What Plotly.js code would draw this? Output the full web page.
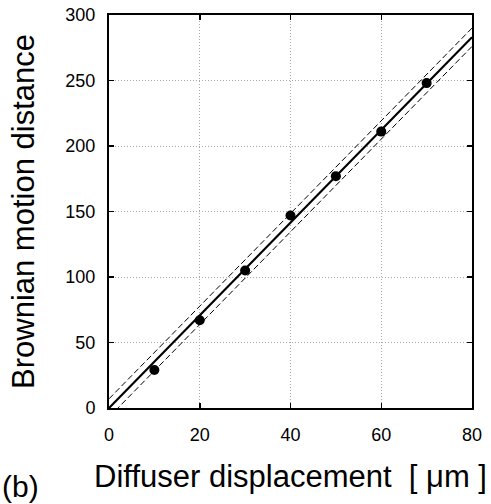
<!DOCTYPE html>
<html>
<head>
<meta charset="utf-8">
<script src="https://cdn.plot.ly/plotly-3.0.1.min.js"></script>
<style>html,body{margin:0;padding:0;background:#fff;}#chart{width:491px;height:504px;}</style>
</head>
<body>
<div id="chart"></div>
<script>
// Measured points
const displacement = [10, 20, 30, 40, 50, 60, 70];
const brownianDist = [29, 67, 105, 147, 177, 211, 248];
// Fit line and its bounds
const fitX = [0, 80];
const fitY = [0, 283];
const upperY = [7, 290];
const lowerY = [-7, 276];
const xTicks = [0, 20, 40, 60, 80];
const yTicks = [0, 50, 100, 150, 200, 250, 300];

const font = 'Liberation Sans, Arial, sans-serif';

const traces = [
  {x: fitX, y: upperY, mode: 'lines', line: {color: '#000', width: 1, dash: '6px,3px'}, hoverinfo: 'skip'},
  {x: fitX, y: lowerY, mode: 'lines', line: {color: '#000', width: 1, dash: '6px,3px'}, hoverinfo: 'skip'},
  {x: fitX, y: fitY, mode: 'lines', line: {color: '#000', width: 2.2}, hoverinfo: 'skip'},
  {x: displacement, y: brownianDist, mode: 'markers', marker: {color: '#000', size: 10}}
];

const axisCommon = {
  showline: true, linecolor: '#000', linewidth: 2, mirror: 'ticks',
  ticks: 'inside', ticklen: 5, tickwidth: 1.5, tickcolor: '#000',
  showgrid: true, gridcolor: '#a8a8a8', griddash: '1px,2px', gridwidth: 1,
  zeroline: false, tickfont: {family: font, size: 18, color: '#000'},
  automargin: false
};

const layout = {
  width: 491, height: 504,
  margin: {l: 108.5, r: 19.3, t: 15, b: 95.7},
  paper_bgcolor: '#fff', plot_bgcolor: '#fff',
  showlegend: false,
  xaxis: Object.assign({}, axisCommon, {
    range: [0, 80], tickvals: xTicks, ticklabelstandoff: 9,
    title: {text: 'Diffuser displacement  [ μm ]', font: {family: font, size: 31, color: '#000'}, standoff: 22}
  }),
  yaxis: Object.assign({}, axisCommon, {
    range: [0, 300], tickvals: yTicks, ticklabelstandoff: 8,
    title: {text: 'Brownian motion distance', font: {family: font, size: 31, color: '#000'}, standoff: 22}
  }),
  annotations: [{
    text: '(b)', xref: 'paper', yref: 'paper', x: -0.2987, y: -0.2433,
    xanchor: 'left', yanchor: 'bottom', showarrow: false, borderpad: 0,
    font: {family: font, size: 30, color: '#000'}
  }]
};

Plotly.newPlot('chart', traces, layout, {displayModeBar: false, staticPlot: true});
</script>
</body>
</html>
